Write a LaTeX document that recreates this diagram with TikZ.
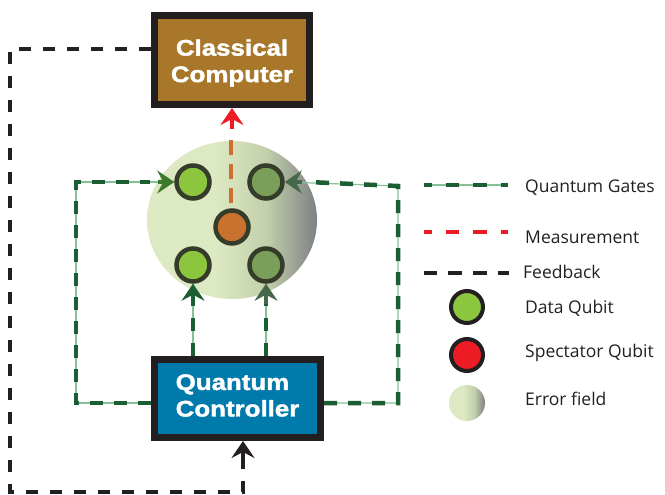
\documentclass[tikz,border=0pt]{standalone}
\usepackage{fontspec}
\setmainfont{Open Sans}
\newfontfamily\boxfont[FakeStretch=1.15,FakeBold=1.8]{Liberation Sans}
\usetikzlibrary{arrows.meta}
\definecolor{boxborder}{HTML}{231F20}
\definecolor{ccbrown}{HTML}{A8772A}
\definecolor{qcblue}{HTML}{0079AB}
\definecolor{gdash}{HTML}{1B5E31}
\definecolor{gthin}{HTML}{86C09A}
\definecolor{garrowL}{HTML}{3B7A2D}
\definecolor{garrowR}{HTML}{44694A}
\definecolor{mred}{HTML}{ED1C24}
\definecolor{morange}{HTML}{CC7133}
\definecolor{qbord}{HTML}{363C2A}
\definecolor{qleft}{HTML}{8CC63F}
\definecolor{qright}{HTML}{7A9F5A}
\definecolor{qcenter}{HTML}{C9712F}
\definecolor{efA}{HTML}{DCE9C3}
\definecolor{efB}{HTML}{C3D0AB}
\definecolor{efC}{HTML}{7E8083}
\definecolor{legtext}{HTML}{231F20}
\pgfdeclarehorizontalshading{errfield}{100bp}{color(0bp)=(efA); color(25bp)=(efA); color(45bp)=(efA); color(60bp)=(efB); color(75bp)=(efC); color(100bp)=(efC)}
\tikzset{
  bigbox/.style={draw=boxborder, line width=7pt},
  boxtext/.style={text=white, inner sep=0pt,
    font=\boxfont\bfseries\fontsize{22.5}{26.5}\selectfont},
  qubit/.style={circle, draw=qbord, line width=4.5pt, minimum size=33pt, inner sep=0pt},
  legqubit/.style={circle, draw=boxborder, line width=4pt, minimum size=32pt, inner sep=0pt},
  gthinline/.style={draw=gthin, line width=1.2pt},
  gdashline/.style={draw=gdash, line width=4.5pt, dash pattern=on 13pt off 11pt},
  fbline/.style={draw=boxborder, line width=4.5pt, dash pattern=on 12pt off 12pt},
  bigtip/.tip={Stealth[length=17pt,width=23pt,inset=6pt]},
  garrow/.style={draw=#1, line width=4pt, -bigtip},
  legtxt/.style={anchor=base west, text=legtext, font=\fontsize{17.5}{20}\selectfont, inner sep=0pt},
}
\begin{document}
\begin{tikzpicture}[x=1pt,y=-1pt]
\useasboundingbox (0,0) rectangle (665,495);

% boxes
\node[bigbox, fill=ccbrown, minimum width=155pt, minimum height=89pt] (cc) at (232,60) {};
\node[boxtext, align=center] (cctext) at ([yshift=-3pt]cc.center) {Classical\\Computer};
\node[bigbox, fill=qcblue, minimum width=166pt, minimum height=78pt] (qc) at (237.5,398.5) {};
\node[boxtext, align=left] (qctext) at ([yshift=3pt]qc.center) {Quantum\\Controller};

% error field
\coordinate (ef) at (232,220);
\path[shading=errfield] (ef) ellipse [x radius=85pt, y radius=79pt];

% measurement line
\draw[morange, line width=4.5pt, dash pattern=on 15pt off 9pt] (231,140) -- (231,210);

% qubits
\node[qubit, fill=qleft] (q1) at (193,182) {};
\node[qubit, fill=qright] (q2) at (266,182) {};
\node[qubit, fill=qcenter] (q0) at (232,227) {};
\node[qubit, fill=qleft] (q3) at (193,265) {};
\node[qubit, fill=qright] (q4) at (266,265) {};

% red arrow to classical computer
\coordinate (mstart) at (232,129);
\draw[mred, line width=4.5pt, -bigtip] (mstart) -- (cc.south);

% quantum gate lines
\coordinate (gl1) at (76,403);
\coordinate (gl2) at (76,182);
\coordinate (gr1) at (398,403);
\coordinate (gr2) at (398,186);
\coordinate (qcL) at (151,403);
\coordinate (qcR) at (324,403);
\coordinate (qcT1) at (193,356);
\coordinate (qcT2) at (266,356);

\draw[gthinline] (qcL) -- (gl1) -- (gl2) -- (q1.west);
\draw[gdashline] (qcL) -- (gl1) -- (gl2) -- (150,182);
\draw[garrow=garrowL] (158,182) -- (q1.west);

\draw[gthinline] (qcR) -- (gr1) -- (gr2) -- (q2.east);
\draw[gdashline] (qcR) -- (gr1) -- (gr2) -- (308,182);
\draw[garrow=garrowR] (302,182) -- (q2.east);

\draw[gthinline] (qcT1) -- (q3.south);
\draw[gdashline, dash pattern=on 13pt off 12pt] (qcT1) -- (193,304);
\draw[garrow=gdash] (193,304) -- (q3.south);

\draw[gthinline] (qcT2) -- (q4.south);
\draw[gdashline, dash pattern=on 13pt off 12pt] (qcT2) -- (266,304);
\draw[garrow=garrowR] (266,304) -- (q4.south);

% feedback
\coordinate (fb1) at (10,49);
\coordinate (fb2) at (10,492);
\coordinate (fb3) at (243,492);
\draw[fbline] (151,49) -- (fb1) -- (fb2) -- (fb3) -- (243,458);
\draw[boxborder, line width=4.5pt, -bigtip] (243,462) -- (qc.south -| fb3);

% legend
\coordinate (lg1a) at (424,185); \coordinate (lg1b) at (508,185);
\draw[gthinline] (lg1a) -- (lg1b);
\draw[draw=gdash, line width=4pt, dash pattern=on 8pt off 14pt on 13pt off 14pt on 14pt off 14pt on 8pt] (lg1a) -- (lg1b);
\node[legtxt] (t1) at (525,193) {Quantum Gates};

\coordinate (lg2a) at (424,232); \coordinate (lg2b) at (508,232);
\draw[draw=mred, line width=4pt, dash pattern=on 8pt off 14pt on 13pt off 14pt on 14pt off 14pt on 8pt] (lg2a) -- (lg2b);
\node[legtxt] (t2) at (525,243) {Measurement};

\coordinate (lg3a) at (424,273); \coordinate (lg3b) at (509,273);
\draw[draw=boxborder, line width=4.5pt, dash pattern=on 13pt off 11pt on 14pt off 11pt on 14pt off 11pt on 11pt] (lg3a) -- (lg3b);
\node[legtxt] (t3) at (523,278) {Feedback};

\node[legqubit, fill=qleft] (l4) at (467,307) {};
\node[legtxt] (t4) at (525,313) {Data Qubit};
\node[legqubit, fill=mred] (l5) at (467,355) {};
\node[legtxt] (t5) at (525,357) {Spectator Qubit};
\node[circle, minimum size=36pt, inner sep=0pt] (l6) at (467,403) {};
\path[shading=errfield] (l6.center) circle [radius=18pt];
\node[legtxt] (t6) at (525,405) {Error field};
\end{tikzpicture}
\end{document}
